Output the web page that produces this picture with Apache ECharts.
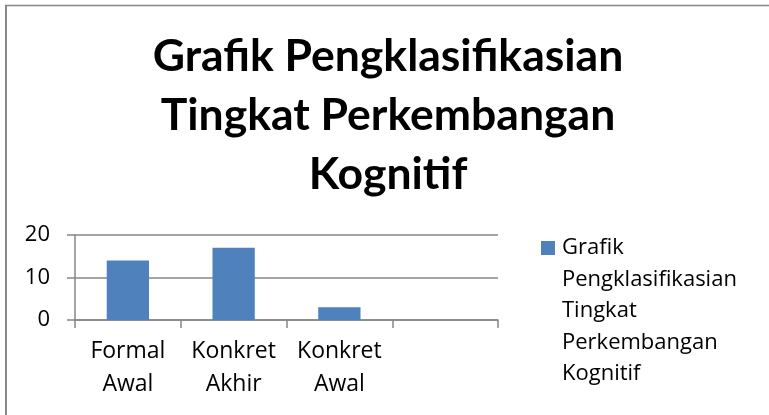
<!DOCTYPE html>
<html>
<head>
<meta charset="utf-8">
<script src="https://cdn.jsdelivr.net/npm/echarts@6/dist/echarts.min.js"></script>
<style>
    html, body { margin: 0; padding: 0; background: #fff; }
    #chart { width: 769px; height: 415px; }
</style>
</head>
<body>
<div id="chart"></div>
<script>
    //圖表標題
    var chartTitle = 'Grafik Pengklasifikasian\nTingkat Perkembangan\nKognitif';
    //系列名稱 (圖例)
    var seriesName = 'Grafik\nPengklasifikasian\nTingkat\nPerkembangan\nKognitif';
    //類別
    var categories = ['Formal\nAwal', 'Konkret\nAkhir', 'Konkret\nAwal', ''];
    //數值
    var values = [14, 17, 3, null];
    //Y軸刻度
    var yTicks = [0, 10, 20];

    var gray = '#878787';
    var myChart = echarts.init(document.getElementById('chart'));

    var option = {
        animation: false,
        backgroundColor: '#fff',
        title: {
            text: chartTitle,
            left: 388,
            top: 27,
            textAlign: 'center',
            padding: 0,
            textStyle: {
                fontFamily: 'Lato',
                fontWeight: 'bold',
                fontSize: 44.5,
                lineHeight: 59,
                color: '#000'
            }
        },
        legend: {
            left: 541,
            top: 232,
            padding: 0,
            itemWidth: 16,
            itemHeight: 158,
            // 方塊對齊第一行文字
            icon: 'path://M0,9h14v14h-14z M0,0h0.01v0.01h-0.01z M16,158h-0.01v-0.01h0.01z',
            textStyle: {
                fontFamily: 'Open Sans',
                fontSize: 22,
                lineHeight: 31.6,
                color: '#000'
            },
            data: [seriesName]
        },
        grid: {
            left: 75,
            right: 271,
            top: 235,
            bottom: 95
        },
        xAxis: {
            type: 'category',
            data: categories,
            axisLine: { lineStyle: { color: gray, width: 1.5 } },
            axisTick: { show: true, length: 8, lineStyle: { color: gray, width: 1.5 } },
            axisLabel: {
                interval: 0,
                margin: 15,
                fontFamily: 'Open Sans',
                fontSize: 23,
                lineHeight: 33,
                color: '#000'
            }
        },
        yAxis: {
            type: 'value',
            min: yTicks[0],
            max: yTicks[yTicks.length - 1],
            interval: yTicks[1] - yTicks[0],
            axisLine: { show: true, lineStyle: { color: gray, width: 1.5 } },
            axisTick: { show: true, length: 8, lineStyle: { color: gray, width: 1.5 } },
            splitLine: { lineStyle: { color: gray, width: 1.5 } },
            axisLabel: {
                margin: 25,
                fontFamily: 'Open Sans',
                fontSize: 22,
                color: '#000'
            }
        },
        series: [{
            name: seriesName,
            type: 'bar',
            data: values,
            barWidth: '40%',
            itemStyle: { color: '#4F81BD' }
        }],
        // 外框
        graphic: [
            { type: 'line', shape: { x1: 6, y1: 5, x2: 6, y2: 415 }, style: { stroke: gray, lineWidth: 2 } },
            { type: 'line', shape: { x1: 5, y1: 5.5, x2: 769, y2: 5.5 }, style: { stroke: gray, lineWidth: 1.5 } }
        ]
    };
    myChart.setOption(option);
</script>
</body>
</html>
